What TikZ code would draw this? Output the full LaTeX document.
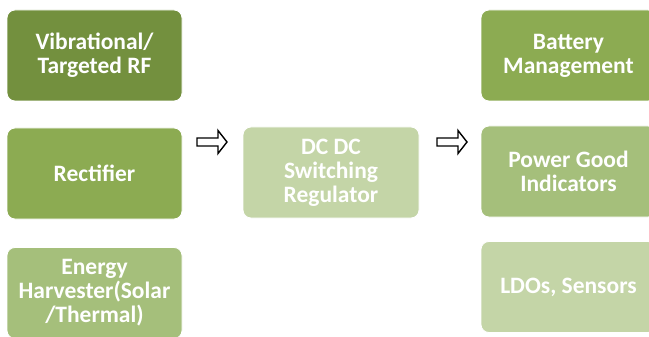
\documentclass[tikz,border=0pt]{standalone}
\usepackage{fontspec}
\setmainfont{Carlito}
\definecolor{gA}{HTML}{73903E}
\definecolor{gB}{HTML}{8CAB52}
\definecolor{gC}{HTML}{A5BF7B}
\definecolor{gD}{HTML}{C4D5A7}
\tikzset{
  box/.style={draw=white, line width=0.8pt, rounded corners=8pt, minimum width=175pt, minimum height=91pt,
    text=white, font=\fontsize{23.5}{24}\selectfont\bfseries, align=center, inner sep=2pt},
  blockarrow/.style={draw=black, fill=white, line width=1.4pt, line join=miter}
}
\newcommand{\blockarrowat}[2]{%
  \draw[blockarrow] (#1,#2) ++(0,-4) -- ++(21,0) -- ++(0,-7.5) -- ++(9,11.5) -- ++(-9,11.5) -- ++(0,-7.5) -- ++(-21,0) -- cycle;}
\begin{document}
\begin{tikzpicture}[x=1pt,y=1pt]
\begin{scope}[yscale=-1]
\useasboundingbox (0,0) rectangle (649,337);
\clip (0,0) rectangle (649,337);
\node[box, fill=gA] (vib) at (94.5,55.5) {Vibrational/\\Targeted RF};
\node[box, fill=gB] (rect) at (94.5,173.5) {Rectifier};
\node[box, fill=gC] (eh) at (94.5,293) {Energy\\Harvester(Solar\\/Thermal)};
\node[box, fill=gD, minimum width=176pt] (dc) at (331,172.5) {DC DC\\Switching\\Regulator};
\node[box, fill=gB] (bat) at (568.5,55.5) {Battery\\Management};
\node[box, fill=gC] (pg) at (568.5,171.5) {Power Good\\Indicators};
\node[box, fill=gD] (ldo) at (568.5,287) {LDOs, Sensors};
\blockarrowat{197}{142}
\blockarrowat{437}{142}
\end{scope}
\end{tikzpicture}
\end{document}
